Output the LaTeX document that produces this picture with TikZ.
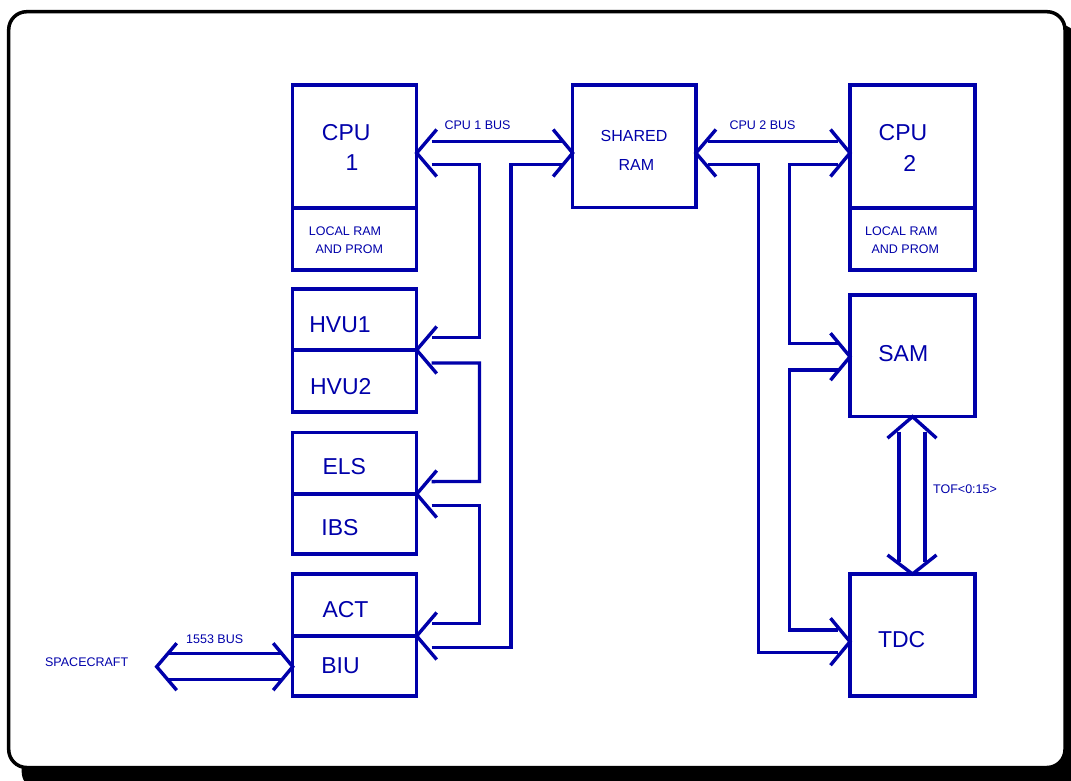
\documentclass[tikz,border=0pt]{standalone}
\usepackage{fontspec}
\setmainfont{Liberation Sans}
\usetikzlibrary{calc}
\definecolor{bus}{RGB}{0,0,170}
\newcommand\chevL[1]{\draw[wire] ($(#1)+(20,-23.5)$) -- (#1) -- ($(#1)+(20,23.5)$);}
\newcommand\chevR[1]{\draw[wire] ($(#1)+(-19.5,-23.5)$) -- (#1) -- ($(#1)+(-19.5,23.5)$);}
\newcommand\chevU[1]{\draw[wire] ($(#1)+(-25,21.5)$) -- (#1) -- ($(#1)+(24,21.5)$);}
\newcommand\chevD[1]{\draw[wire] ($(#1)+(-25,-19)$) -- (#1) -- ($(#1)+(24,-19)$);}
\begin{document}
\begin{tikzpicture}[x=1pt,y=-1pt,
  box/.style={draw=bus,line width=3.4pt,inner sep=0pt,outer sep=0pt,minimum width=124pt},
  big/.style={text=bus,font=\fontsize{23}{23}\selectfont,inner sep=0pt,anchor=base},
  mid/.style={text=bus,font=\fontsize{16}{16}\selectfont,inner sep=0pt,anchor=base},
  small/.style={text=bus,font=\fontsize{12.5}{12.5}\selectfont,inner sep=0pt,anchor=base},
  wire/.style={draw=bus,line width=3.4pt,line join=miter},
]
\useasboundingbox (0,0) rectangle (1071,781);
\clip (0,0) rectangle (1071,781);
% frame with shadow
\fill[black,rounded corners=18pt] (21.7,24.7) rectangle (1078,790);
\draw[black,fill=white,line width=3.5pt,rounded corners=18pt] (8.7,11.7) rectangle (1065,767.5);

% boxes
\node[box,minimum height=123pt] (cpu1) at (354.7,146.5) {};
\node[box,minimum height=62pt] (cpu1m) at (354.7,239) {};
\node[box,minimum width=123.3pt,minimum height=122.7pt] (ram) at (634.3,146.3) {};
\node[box,minimum width=125pt,minimum height=123pt] (cpu2) at (912.5,146.5) {};
\node[box,minimum width=125pt,minimum height=62pt] (cpu2m) at (912.5,239) {};
\node[box,minimum height=61pt] (hvu1) at (354.7,319.5) {};
\node[box,minimum height=62pt] (hvu2) at (354.7,381) {};
\node[box,minimum height=61.7pt] (els) at (354.7,463.2) {};
\node[box,minimum height=60pt] (ibs) at (354.7,524) {};
\node[box,minimum height=62pt] (act) at (354.7,605) {};
\node[box,minimum height=60pt] (biu) at (354.7,666) {};
\node[box,minimum width=125pt,minimum height=121.7pt] (sam) at (912.5,355.8) {};
\node[box,minimum width=125pt,minimum height=122pt] (tdc) at (912.5,635) {};

% texts
\node[big] (tcpu1) at (346.2,141) {CPU};
\node[big] (tone) at (352,170.7) {1};
\node[small] (tl1a) at (345,235.7) {LOCAL RAM};
\node[small] (tl1b) at (349.3,253.3) {AND PROM};
\node[mid] (tsh) at (634,141.7) {SHARED};
\node[mid] (tram) at (636.3,171) {RAM};
\node[big] (tcpu2) at (903,141) {CPU};
\node[big] (ttwo) at (909.7,171.7) {2};
\node[small] (tl2a) at (901.3,235.7) {LOCAL RAM};
\node[small] (tl2b) at (905.3,253.3) {AND PROM};
\node[big] (thvu1) at (340,332.3) {HVU1};
\node[big] (thvu2) at (340.8,394.3) {HVU2};
\node[big] (tels) at (344.3,474) {ELS};
\node[big] (tibs) at (340,535.7) {IBS};
\node[big] (tact) at (345.5,617.3) {ACT};
\node[big] (tbiu) at (340.5,673.3) {BIU};
\node[big] (tsam) at (903.3,361.7) {SAM};
\node[big] (ttdc) at (901.7,647.3) {TDC};
\node[small] (tb1) at (477.5,129.3) {CPU 1 BUS};
\node[small] (tb2) at (762.5,129.3) {CPU 2 BUS};
\node[small] (tb3) at (214.7,643.3) {1553 BUS};
\node[small] (tsc) at (86.7,666.7) {SPACECRAFT};
\node[small,anchor=base west] (ttof) at (933,493.3) {TOF<0:15>};

% arrow apexes
\coordinate (a1L) at (cpu1.east |- 0,153);
\coordinate (a1R) at (ram.west |- 0,153);
\coordinate (a2L) at (ram.east |- 0,153);
\coordinate (a2R) at (cpu2.west |- 0,153);
\coordinate (aH) at (hvu1.south east);
\coordinate (aE) at (els.south east);
\coordinate (aA) at (act.south east);
\coordinate (aS) at (sam.west |- 0,356.7);
\coordinate (aT) at (tdc.west |- 0,641.7);
\coordinate (aTu) at (sam.south);
\coordinate (aTd) at (tdc.north);
\coordinate (aB) at (biu.west |- 0,666.7);
\coordinate (aSC) at (156.7,666.7);

% CPU 1 bus
\draw[wire] ($(a1L)+(15,-11.5)$) -- ($(a1R)+(-9,-11.5)$);
\draw[wire] ($(a1L)+(15,11.5)$) -| (479.5,337.5) -- ($(aH)+(15,-12.5)$);
\draw[wire] ($(aH)+(15,13)$) -| (479.5,481.5) -- ($(aE)+(15,-12.5)$);
\draw[wire] ($(aE)+(15,11.7)$) -| (479.5,623.3) -- ($(aA)+(15,-12.7)$);
\draw[wire] ($(aA)+(15,11.7)$) -| (511,164.5) -- ($(a1R)+(-9,11.5)$);
\chevL{a1L} \chevR{a1R}
\chevL{aH} \chevL{aE} \chevL{aA}

% CPU 2 bus
\draw[wire] ($(a2L)+(12,-11.5)$) -- ($(a2R)+(-12,-11.5)$);
\draw[wire] ($(a2L)+(12,11.5)$) -| (758.3,652.7) -- ($(aT)+(-12,11)$);
\draw[wire] ($(a2R)+(-12,11.5)$) -| (789.5,343.3) -- ($(aS)+(-12,-13.4)$);
\draw[wire] ($(aS)+(-12,13.3)$) -| (789.5,630) -- ($(aT)+(-12,-11.7)$);
\chevL{a2L} \chevR{a2R}
\chevR{aS} \chevR{aT}

% TOF bus
\draw[wire] ($(aTu)+(-13.5,15)$) -- ($(aTd)+(-13.5,-12.3)$);
\draw[wire] ($(aTu)+(12.5,15)$) -- ($(aTd)+(12.5,-12.3)$);
\chevU{aTu} \chevD{aTd}

% 1553 bus
\draw[wire] ($(aSC)+(12.6,-13.5)$) -- ($(aB)+(-9.4,-13.5)$);
\draw[wire] ($(aSC)+(12.6,12.5)$) -- ($(aB)+(-9.4,12.5)$);
\chevL{aSC} \chevR{aB}
\end{tikzpicture}
\end{document}
